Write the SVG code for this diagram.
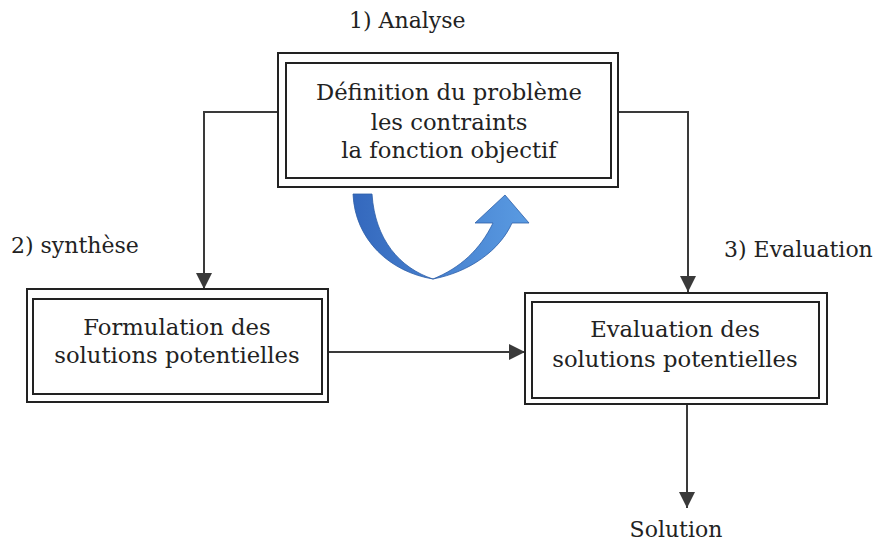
<svg xmlns="http://www.w3.org/2000/svg" width="880" height="543" viewBox="0 0 880 543">
<defs>
<marker id="ah2" viewBox="0 0 10 10" refX="10" refY="5" markerWidth="16" markerHeight="16" orient="auto" markerUnits="userSpaceOnUse">
<path d="M0,0 L10,5 L0,10 Z" fill="#3a3a3a"/>
</marker>
<linearGradient id="bg" x1="0" y1="0" x2="1" y2="0">
<stop offset="0" stop-color="#3468bd"/>
<stop offset="1" stop-color="#5a9be2"/>
</linearGradient>
<style>
.box{fill:none;stroke:#222;stroke-width:2}
.t{font-family:"DejaVu Serif","Liberation Serif",serif;font-size:22.7px;fill:#222;text-anchor:middle}
.l{font-family:"DejaVu Serif","Liberation Serif",serif;font-size:22px;fill:#222}
.c{fill:none;stroke:#3a3a3a;stroke-width:2}
</style>
</defs>
<rect width="880" height="543" fill="#fff"/>
<text class="l" x="349" y="28">1) Analyse</text>
<text class="l" x="11" y="253">2) synthèse</text>
<text class="l" x="724" y="257">3) Evaluation</text>
<g id="connectors">
<path class="c" d="M279,112 H204 V289" marker-end="url(#ah2)"/>
<path class="c" d="M618,112 H688 V292" marker-end="url(#ah2)"/>
<path class="c" d="M328,352 H525" marker-end="url(#ah2)"/>
<path class="c" d="M687,404 V508" marker-end="url(#ah2)"/>
</g>
<g id="n1">
<rect class="box" x="278" y="53" width="340" height="134"/>
<rect class="box" x="286" y="63" width="325" height="115"/>
<text class="t" x="449" y="100">Définition du problème</text>
<text class="t" x="449" y="130">les contraints</text>
<text class="t" x="449" y="158">la fonction objectif</text>
</g>
<g id="n2">
<rect class="box" x="27" y="289" width="301" height="113"/>
<rect class="box" x="33" y="299" width="289" height="95"/>
<text class="t" x="177" y="335">Formulation des</text>
<text class="t" x="177" y="363">solutions potentielles</text>
</g>
<g id="n3">
<rect class="box" x="525" y="293" width="302" height="111"/>
<rect class="box" x="532" y="302" width="287" height="96"/>
<text class="t" x="675" y="337">Evaluation des</text>
<text class="t" x="675" y="367">solutions potentielles</text>
</g>
<text class="l" x="676" y="537" text-anchor="middle">Solution</text>
<g id="curved-arrow">
<path d="M353,194 C355,240 390,272 433,279 C470,272 500,250 512,223 L529,223 L505,195 L475,223 L493,223 C480,250 460,268 433,279 C400,268 375,240 372,194 Z" fill="url(#bg)" stroke="#2f5fa8" stroke-width="0.8"/>
</g>
</svg>
